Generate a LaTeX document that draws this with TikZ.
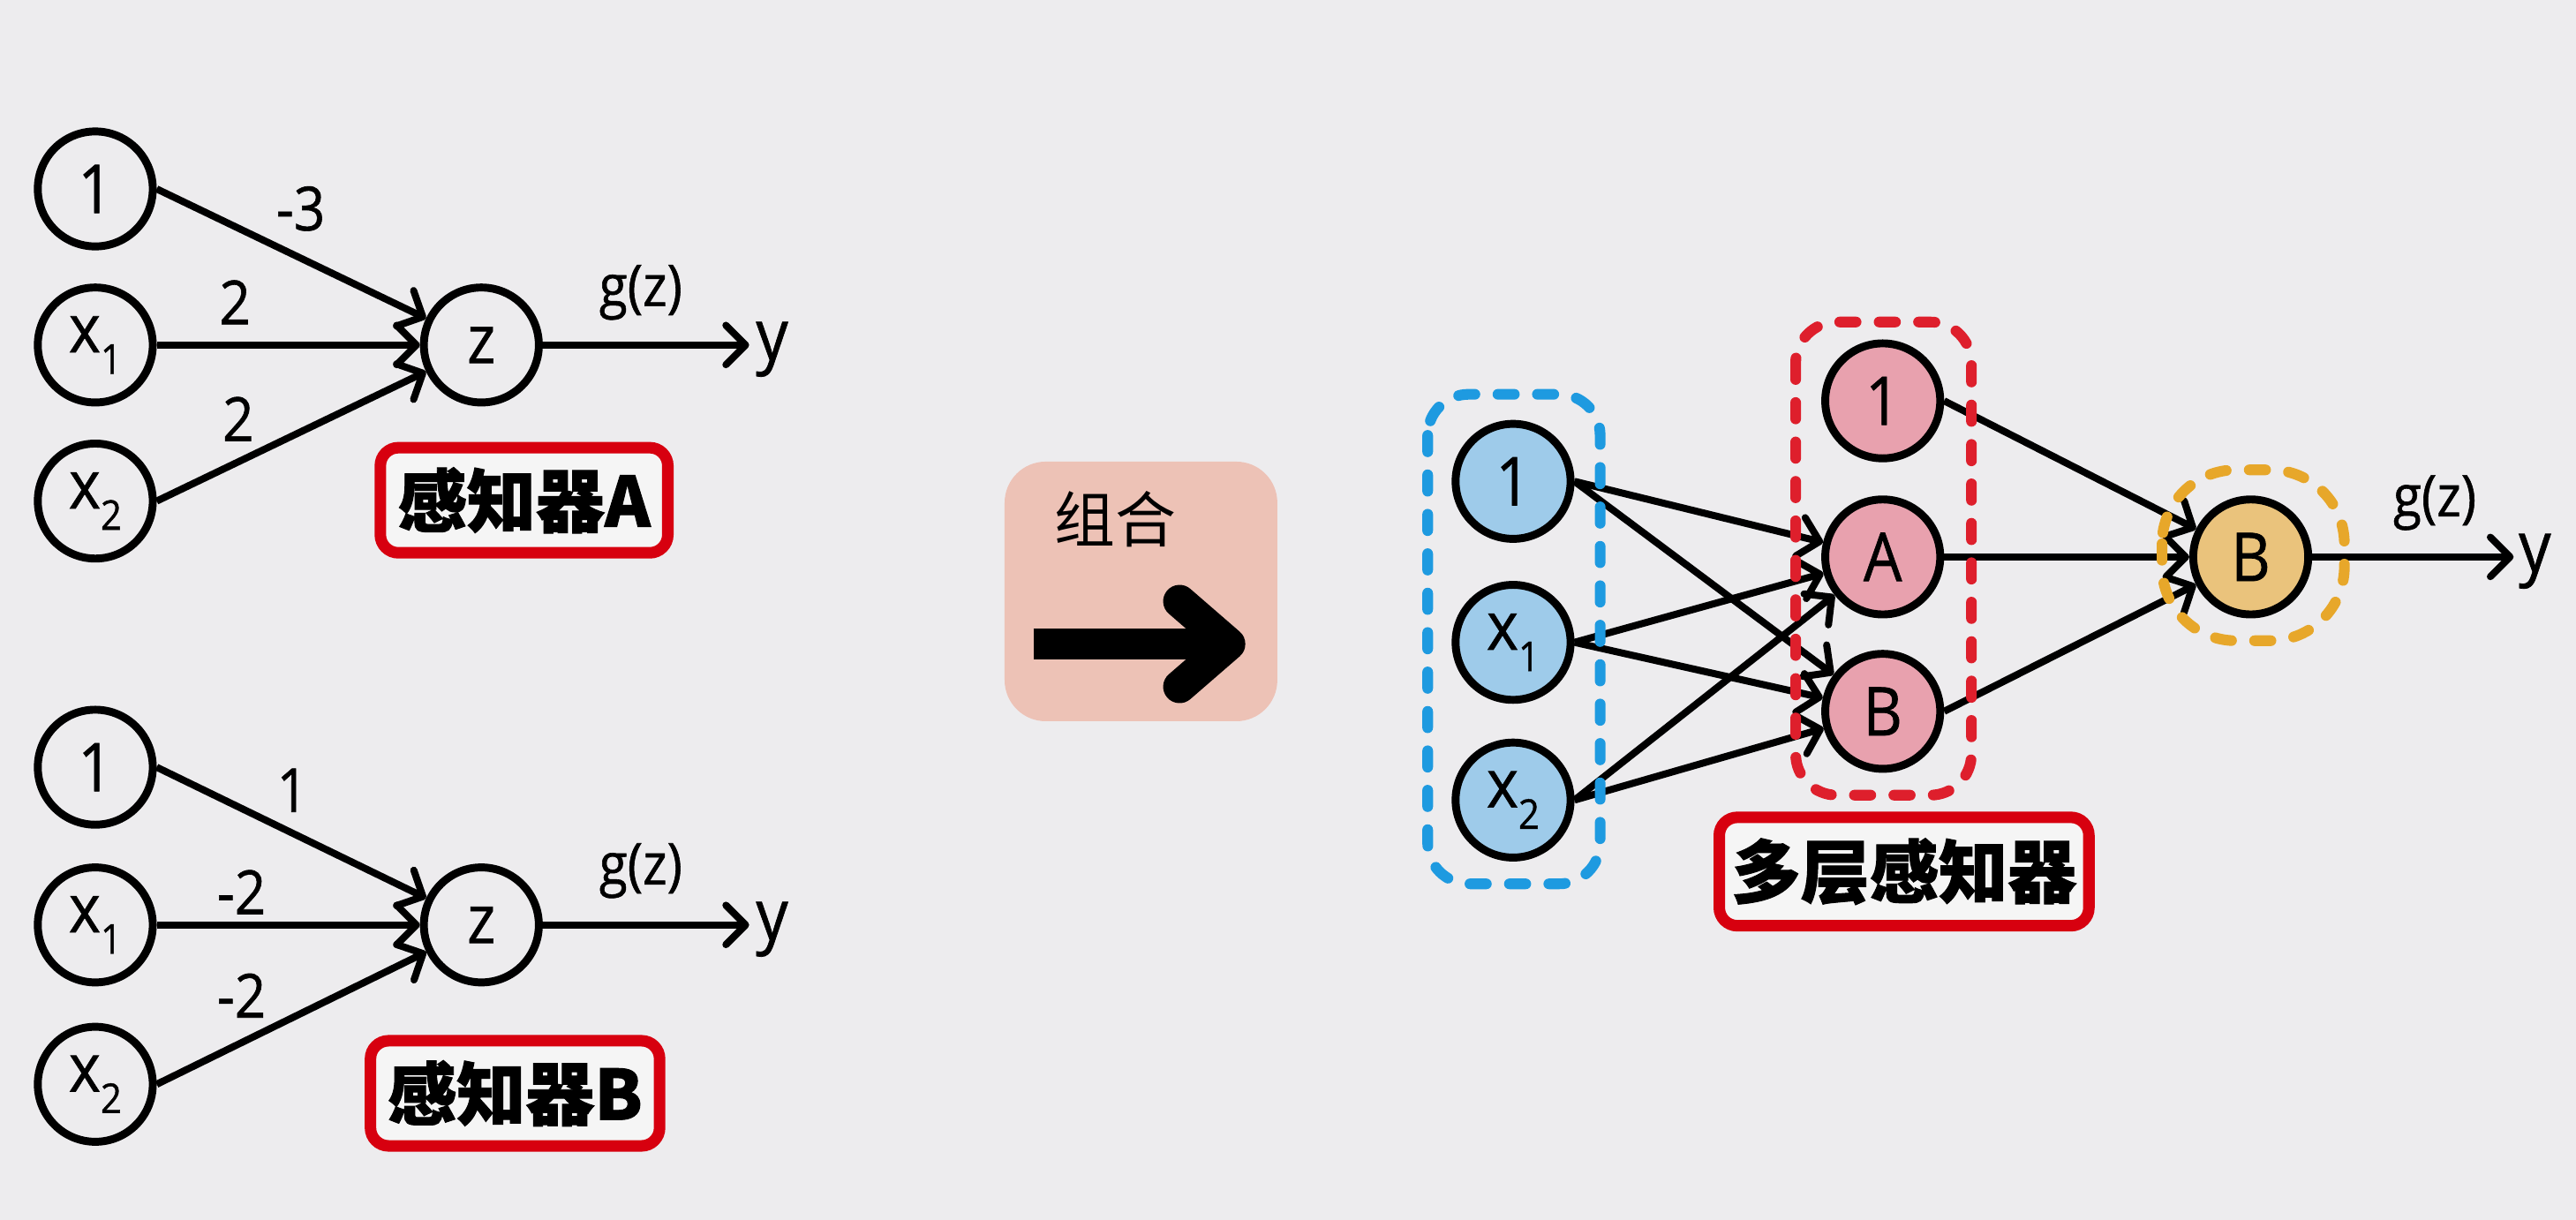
\documentclass[tikz,border=0pt]{standalone}
\usepackage{fontspec}
\setmainfont{Open Sans}[FakeBold=0.9]
\newfontfamily\cjk{Noto Sans CJK SC}[BoldFeatures={FakeBold=1.2}]
\usetikzlibrary{arrows.meta}
\definecolor{bgc}{HTML}{EDECEE}
\definecolor{bluefill}{HTML}{9ECBEA}
\definecolor{bluedash}{HTML}{1E9AE0}
\definecolor{pinkfill}{HTML}{E8A1AE}
\definecolor{reddash}{HTML}{DE1F2C}
\definecolor{orfill}{HTML}{EAC37C}
\definecolor{ordash}{HTML}{E7A72A}
\definecolor{boxred}{HTML}{D7000F}
\definecolor{boxfill}{HTML}{F5F5F5}
\definecolor{combfill}{HTML}{EDC2B6}
\newcommand\nx[1]{\scalebox{0.9}[1]{#1}}
\newcommand\xs[1]{\nx{x\raisebox{-13pt}{\fontsize{25}{25}\selectfont #1}}}
\tikzset{
  nd/.style={circle, draw=black, line width=4.8pt, minimum size=70pt, inner sep=0pt,
    font=\fontsize{41}{41}\selectfont},
  arr/.style={line width=4.3pt, -{Straight Barb[length=12pt,width=24pt,round]}},
  wlab/.style={inner sep=0pt, font=\fontsize{37}{37}\selectfont},
  gz/.style={inner sep=0pt, font=\fontsize{35}{35}\selectfont},
  ylab/.style={inner sep=0pt, anchor=base west, font=\fontsize{43}{43}\selectfont},
  redbox/.style={draw=boxred, fill=boxfill, line width=7pt, rounded corners=11pt,
    inner sep=0pt, font=\cjk\bfseries\fontsize{42}{42}\selectfont},
  dbox/.style={line width=6.5pt, dash pattern=on 10pt off 14pt, line cap=round}
}
\begin{document}
\begin{tikzpicture}[x=1pt,y=-1pt]
\useasboundingbox (0,0) rectangle (1568,742.6);
\fill[bgc] (0,0) rectangle (1568,742.6);

% ---------- Perceptron A ----------
\node[nd] (a1) at (58,115) {\nx{1}};
\node[nd] (ax1) at (58,210) {\xs{1}};
\node[nd] (ax2) at (58,305) {\xs{2}};
\node[nd] (az) at (293,210) {\nx{z}};
\coordinate (ay) at (456,210);
\draw[arr] (a1.east) -- (az);
\draw[arr] (ax1.east) -- (az);
\draw[arr] (ax2.east) -- (az);
\draw[arr] (az) -- (ay);
\node[ylab] (ayl) at (460,219) {\nx{y}};
\node[gz] (agz) at (390,178) {\nx{g(z)}};
\node[wlab] (aw1) at (183,127) {\nx{-3}};
\node[wlab] (aw2) at (143,184) {\nx{2}};
\node[wlab] (aw3) at (145,255) {\nx{2}};
\node[redbox, minimum width=175pt, minimum height=64pt] (labA) at (319,304.5) {感知器A};

% ---------- Perceptron B ----------
\node[nd] (b1) at (58,467) {\nx{1}};
\node[nd] (bx1) at (58,563) {\xs{1}};
\node[nd] (bx2) at (58,660) {\xs{2}};
\node[nd] (bz) at (293,563) {\nx{z}};
\coordinate (by) at (456,563);
\draw[arr] (b1.east) -- (bz);
\draw[arr] (bx1.east) -- (bz);
\draw[arr] (bx2.east) -- (bz);
\draw[arr] (bz) -- (by);
\node[ylab] (byl) at (460,572) {\nx{y}};
\node[gz] (bgz) at (390,530) {\nx{g(z)}};
\node[wlab] (bw1) at (178,481) {\nx{1}};
\node[wlab] (bw2) at (147,543) {\nx{-2}};
\node[wlab] (bw3) at (147,606) {\nx{-2}};
\node[redbox, minimum width=176pt, minimum height=64pt] (labB) at (313.5,665.5) {感知器B};

% ---------- Combine ----------
\node[fill=combfill, rounded corners=25pt, minimum width=166pt, minimum height=158pt, inner sep=0pt] (comb) at (694.5,360) {};
\node[inner sep=0pt, font=\cjk\fontsize{37}{37}\selectfont] (combt) at (679,316) {组合};
\draw[line width=19pt] (629,392) -- (744,392);
\draw[line width=20pt, line cap=round, line join=round] (718,366) -- (748,392) -- (718,418);

% ---------- Multilayer network ----------
\node[nd, fill=bluefill] (i1) at (921,293) {\nx{1}};
\node[nd, fill=bluefill] (ix1) at (921,391) {\xs{1}};
\node[nd, fill=bluefill] (ix2) at (921,487) {\xs{2}};
\node[nd, fill=pinkfill] (h1) at (1146,244) {\nx{1}};
\node[nd, fill=pinkfill] (hA) at (1146,339) {\nx{A}};
\node[nd, fill=pinkfill] (hB) at (1146,433) {\nx{B}};
\node[nd, fill=orfill] (o) at (1370,339) {\nx{B}};
\coordinate (oy) at (1530,339);

\foreach \s in {i1,ix1,ix2}{
  \draw[arr] (\s.east) -- (hA);
  \draw[arr] (\s.east) -- (hB);
}
\draw[arr] (h1.east) -- (o);
\draw[arr] (hA.east) -- (o);
\draw[arr] (hB.east) -- (o);
\draw[arr] (o) -- (oy);
\node[ylab] (oyl) at (1533,348) {\nx{y}};
\node[gz] (ogz) at (1482,306) {\nx{g(z)}};

\draw[dbox, draw=bluedash, rounded corners=25pt] (869,240) rectangle (974,538);
\draw[dbox, draw=reddash, rounded corners=25pt] (1093,196) rectangle (1200,484);
\draw[dbox, draw=ordash, rounded corners=45pt] (1316,286) rectangle (1427,390);

\node[redbox, minimum width=225pt, minimum height=66pt] (labM) at (1159,530.5) {多层感知器};
\end{tikzpicture}
\end{document}
